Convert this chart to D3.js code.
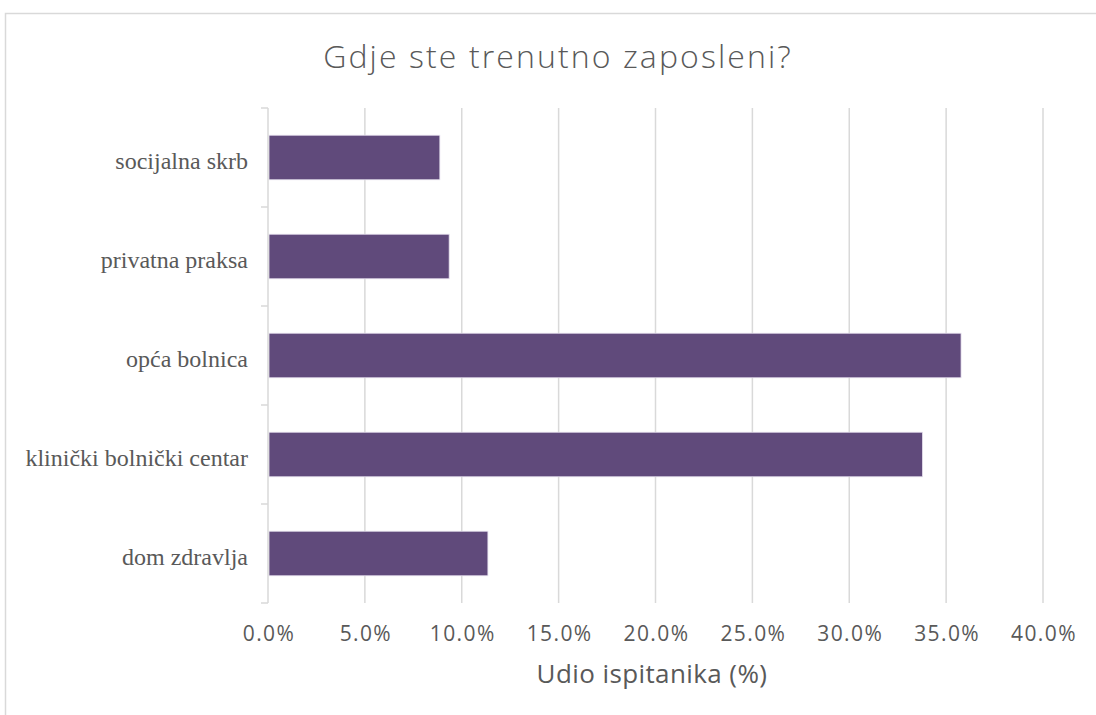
<!DOCTYPE html>
<html>
<head>
<meta charset="utf-8">
<script src="https://cdn.jsdelivr.net/npm/d3@7"></script>
<style>
  html, body { margin: 0; padding: 0; background: #fff; }
  svg { display: block; }
</style>
</head>
<body>
<svg id="chart" width="1096" height="715"></svg>
<script>
const categories = ["socijalna skrb", "privatna praksa", "opća bolnica", "klinički bolnički centar", "dom zdravlja"];
const values = [8.87, 9.35, 35.77, 33.78, 11.35];
const tickValues = [0, 5, 10, 15, 20, 25, 30, 35, 40];
const tickLabels = ["0.0%", "5.0%", "10.0%", "15.0%", "20.0%", "25.0%", "30.0%", "35.0%", "40.0%"];
const title = "Gdje ste trenutno zaposleni?";
const xTitle = "Udio ispitanika (%)";

const svg = d3.select("#chart");
const sans = "'Open Sans', 'Noto Sans', sans-serif";
const serif = "'Liberation Serif', 'DejaVu Serif', serif";
const textColor = "#595959";
const gridColor = "#d9d9d9";

// chart border
svg.append("rect")
  .attr("x", 5.5).attr("y", 13.5)
  .attr("width", 1200).attr("height", 800)
  .attr("fill", "none").attr("stroke", gridColor).attr("stroke-width", 1.5);

const x = d3.scaleLinear().domain([0, 40]).range([268, 1043]);
const y = d3.scaleBand().domain(categories).range([108, 603]).paddingInner(0.55).paddingOuter(0.275);

// gridlines
svg.append("g").selectAll("line").data(tickValues.slice(1)).join("line")
  .attr("x1", d => x(d)).attr("x2", d => x(d))
  .attr("y1", 108).attr("y2", 603)
  .attr("stroke", gridColor).attr("stroke-width", 1.5);

// bars
svg.append("g").selectAll("rect").data(categories).join("rect")
  .attr("x", x(0) + 1)
  .attr("y", d => y(d))
  .attr("width", (d, i) => x(values[i]) - x(0) - 1)
  .attr("height", y.bandwidth())
  .attr("fill", "#604a7b")
  .attr("stroke", "#e6e0ee").attr("stroke-width", 0.8);

// y axis line with category boundary ticks
const yAxisG = svg.append("g");
yAxisG.append("line")
  .attr("x1", x(0)).attr("x2", x(0)).attr("y1", 108).attr("y2", 603)
  .attr("stroke", gridColor).attr("stroke-width", 1.5);
const bounds = d3.range(categories.length + 1).map(i => 108 + i * y.step());
yAxisG.selectAll(".tk").data(bounds).join("line")
  .attr("x1", x(0) - 7).attr("x2", x(0))
  .attr("y1", d => d).attr("y2", d => d)
  .attr("stroke", gridColor).attr("stroke-width", 1.5);

// y labels
svg.append("g").selectAll("text").data(categories).join("text")
  .attr("x", 248)
  .attr("y", d => y(d) + y.bandwidth() / 2 + 11.5)
  .attr("text-anchor", "end")
  .attr("font-family", serif).attr("font-size", 24)
  .attr("fill", textColor)
  .text(d => d);

// x tick labels
svg.append("g").selectAll("text").data(tickValues).join("text")
  .attr("x", d => x(d) + 1)
  .attr("y", 641)
  .attr("text-anchor", "middle")
  .attr("font-family", sans).attr("font-size", 21).attr("font-weight", 400)
  .attr("letter-spacing", 1.4)
  .attr("fill", textColor)
  .text((d, i) => tickLabels[i]);

// x axis title
svg.append("text")
  .attr("x", 652).attr("y", 683)
  .attr("text-anchor", "middle")
  .attr("font-family", sans).attr("font-size", 26).attr("font-weight", 400)
  .attr("letter-spacing", 0.4)
  .attr("fill", textColor)
  .text(xTitle);

// title
svg.append("text")
  .attr("x", 558).attr("y", 68)
  .attr("text-anchor", "middle")
  .attr("font-family", sans).attr("font-size", 32).attr("font-weight", 300)
  .attr("letter-spacing", 2.1)
  .attr("fill", textColor)
  .text(title);
</script>
</body>
</html>
